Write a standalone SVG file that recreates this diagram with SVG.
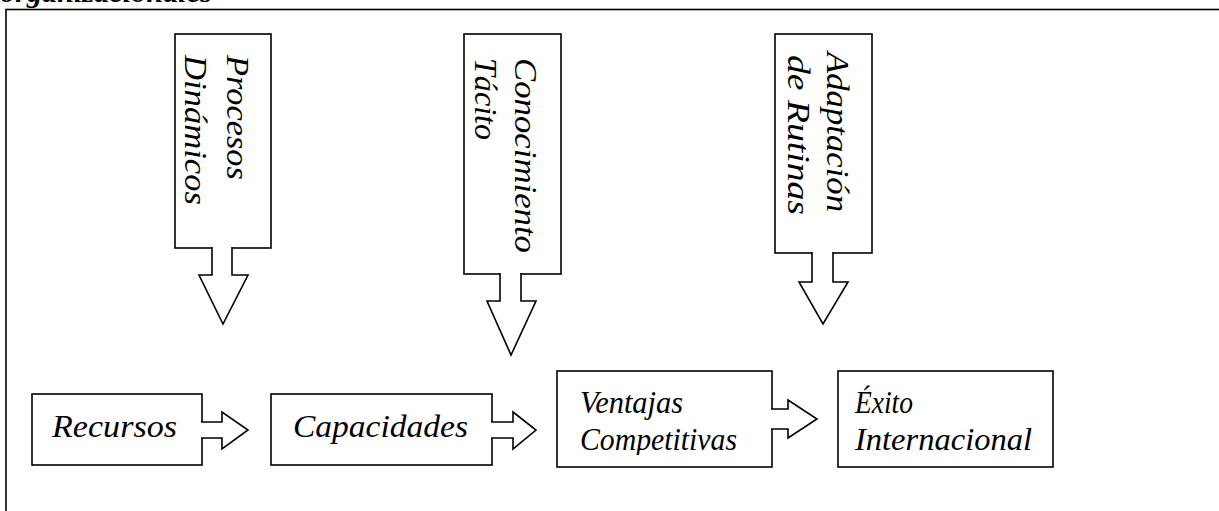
<svg xmlns="http://www.w3.org/2000/svg" width="1219" height="511" viewBox="0 0 1219 511">
<style>
.box{fill:#fff;stroke:#000;stroke-width:1.6}
.arr{fill:#fff;stroke:#000;stroke-width:1.6;stroke-linejoin:miter}
.t{font-family:"Liberation Serif","Times New Roman",serif;font-style:italic;font-size:32px;fill:#000}
.h{font-family:"Liberation Serif","Times New Roman",serif;font-style:italic;font-weight:bold;font-size:28px;fill:#000}
</style>
<defs>
<clipPath id="cv"><rect x="557" y="371" width="215" height="84"/></clipPath>
</defs>
<rect width="1219" height="511" fill="#fff"/>
<text class="h" x="0" y="1.5" textLength="212" lengthAdjust="spacingAndGlyphs">organizacionales</text>
<rect x="6" y="9.5" width="1300" height="600" fill="none" stroke="#000" stroke-width="1.6"/>

<g id="nodes">
<g id="procesos">
<rect class="box" x="175" y="34" width="96" height="214"/>
<text class="t" transform="translate(227,55) rotate(90)" textLength="125" lengthAdjust="spacingAndGlyphs">Procesos</text>
<text class="t" transform="translate(185,55) rotate(90)" textLength="150" lengthAdjust="spacingAndGlyphs">Dinámicos</text>
</g>
<g id="conocimiento">
<rect class="box" x="464" y="34" width="97" height="240"/>
<text class="t" transform="translate(515,58) rotate(90)" textLength="195" lengthAdjust="spacingAndGlyphs">Conocimiento</text>
<text class="t" transform="translate(475,58) rotate(90)" textLength="82" lengthAdjust="spacingAndGlyphs">Tácito</text>
</g>
<g id="adaptacion">
<rect class="box" x="775" y="34" width="97" height="219"/>
<text class="t" transform="translate(827,52) rotate(90)" textLength="160" lengthAdjust="spacingAndGlyphs">Adaptación</text>
<text class="t" transform="translate(788,55) rotate(90)" textLength="160" lengthAdjust="spacingAndGlyphs">de Rutinas</text>
</g>
<g id="recursos">
<rect class="box" x="32" y="394" width="170" height="71"/>
<text class="t" x="52" y="437" textLength="125" lengthAdjust="spacingAndGlyphs">Recursos</text>
</g>
<g id="capacidades">
<rect class="box" x="271" y="394" width="221" height="71"/>
<text class="t" x="293" y="437" textLength="175" lengthAdjust="spacingAndGlyphs">Capacidades</text>
</g>
<g id="ventajas">
<rect class="box" x="557" y="371" width="215" height="96"/>
<g clip-path="url(#cv)">
<text class="t" x="580" y="413" textLength="103" lengthAdjust="spacingAndGlyphs">Ventajas</text>
<text class="t" x="580" y="450" textLength="157" lengthAdjust="spacingAndGlyphs">Competitivas</text>
</g>
</g>
<g id="exito">
<rect class="box" x="838" y="371" width="215" height="96"/>
<text class="t" x="855" y="413" textLength="58" lengthAdjust="spacingAndGlyphs">Éxito</text>
<text class="t" x="855" y="450" textLength="177" lengthAdjust="spacingAndGlyphs">Internacional</text>
</g>
</g>

<g id="connectors">
<path class="arr" d="M212,247 V275 H199 L223,324 L248,275 H232 V247"/>
<path class="arr" d="M500,273 V301 H487 L511,355 L536,301 H521 V273"/>
<path class="arr" d="M812,252 V282 H799 L823,324 L848,282 H833 V252"/>
<path class="arr" d="M201,422 H222 V412 L248,430 L222,449 V438 H201"/>
<path class="arr" d="M491,422 H513 V412 L536,430 L513,449 V438 H491"/>
<path class="arr" d="M771,409 H788 V400 L817,419 L788,438 V429 H771"/>
</g>
</svg>
